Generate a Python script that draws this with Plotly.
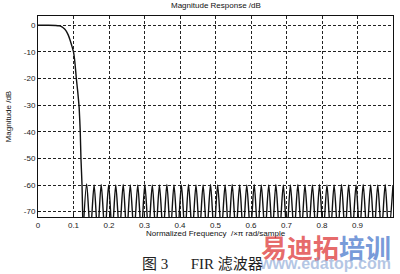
import plotly.graph_objects as go

# Transition band
trans_f = [0, 0.03, 0.05, 0.06, 0.065, 0.07, 0.075, 0.08, 0.085, 0.09, 0.095, 0.1, 0.104, 0.108, 0.112, 0.116, 0.119, 0.121, 0.124, 0.127]
trans_db = [0, 0, -0.05, -0.2, -0.4, -0.8, -1.4, -2.3, -3.6, -5.4, -7.6, -10, -14, -20, -25, -31, -40, -50, -60, -78]

# Stopband ripple: null positions and lobe peaks
null_f = [0.127, 0.1475, 0.168, 0.1885, 0.209, 0.2295, 0.250, 0.2705, 0.291, 0.3115,
          0.332, 0.3525, 0.373, 0.3935, 0.414, 0.4345, 0.455, 0.4755, 0.496, 0.5165,
          0.537, 0.5575, 0.578, 0.5985, 0.619, 0.6395, 0.660, 0.6805, 0.701, 0.7215,
          0.742, 0.7625, 0.783, 0.8035, 0.824, 0.8445, 0.865, 0.8855, 0.906, 0.9265,
          0.947, 0.9675, 0.988]
null_db = [-78] * len(null_f)
peak_f = [0.137, 0.158, 0.178, 0.199, 0.219, 0.240, 0.260, 0.281, 0.301, 0.322,
          0.342, 0.363, 0.383, 0.404, 0.424, 0.445, 0.465, 0.486, 0.506, 0.527,
          0.547, 0.568, 0.588, 0.609, 0.629, 0.650, 0.670, 0.691, 0.711, 0.732,
          0.752, 0.773, 0.793, 0.814, 0.834, 0.855, 0.875, 0.896, 0.916, 0.937,
          0.957, 0.978, 1.0]
peak_db = [-59.6, -60.0, -59.8, -60.0, -60.0, -59.8, -60.0, -60.0, -59.8, -60.0,
           -60.0, -59.8, -60.0, -60.0, -59.8, -60.0, -60.0, -59.8, -60.0, -60.0,
           -59.8, -60.0, -60.0, -59.8, -60.0, -60.0, -59.8, -60.0, -60.0, -59.8,
           -60.0, -60.0, -59.8, -60.0, -60.0, -59.8, -60.0, -60.0, -59.8, -60.0,
           -60.0, -59.8, -60.0]

x_ticks = [0, 0.1, 0.2, 0.3, 0.4, 0.5, 0.6, 0.7, 0.8, 0.9]
x_labels = ["0", "0.1", "0.2", "0.3", "0.4", "0.5", "0.6", "0.7", "0.8", "0.9"]
y_ticks = [-70, -60, -50, -40, -30, -20, -10, 0]
y_labels = ["-70", "-60", "-50", "-40", "-30", "-20", "-10", "0"]

stop_f, stop_db = [], []
for i in range(len(null_f)):
    stop_f.append(null_f[i]); stop_db.append(null_db[i])
    if i < len(peak_f):
        stop_f.append(peak_f[i]); stop_db.append(peak_db[i])

fig = go.Figure()
fig.add_trace(go.Scatter(x=trans_f, y=trans_db, mode="lines",
                         line=dict(color="#111", width=1.4, shape="spline", smoothing=0.4),
                         showlegend=False, hoverinfo="skip"))
fig.add_trace(go.Scatter(x=stop_f, y=stop_db, mode="lines",
                         line=dict(color="#111", width=1.4, shape="spline", smoothing=0.8),
                         showlegend=False, hoverinfo="skip"))

font = "Liberation Sans, Arial, sans-serif"
axis_common = dict(showgrid=True, gridcolor="#222", griddash="3px,2px", gridwidth=1,
                   showline=True, mirror=True, linecolor="#111", linewidth=1,
                   ticks="inside", ticklen=3, tickcolor="#111", zeroline=False,
                   tickfont=dict(family=font, size=8, color="#222"))

fig.update_layout(
    width=400, height=274,
    margin=dict(l=38, r=7, t=16, b=57),
    paper_bgcolor="white", plot_bgcolor="white",
    xaxis=dict(range=[0, 1], tickvals=x_ticks, ticktext=x_labels, **axis_common),
    yaxis=dict(range=[-72, 3.5], tickvals=y_ticks, ticktext=y_labels, **axis_common),
)

ann = [
    dict(text="Magnitude Response /dB", x=0.5, y=1.05, xref="paper", yref="paper",
         showarrow=False, font=dict(family=font, size=8, color="#111"), yanchor="middle"),
    dict(text="Magnitude /dB", x=-0.082, y=0.5, xref="paper", yref="paper",
         showarrow=False, textangle=-90, font=dict(family=font, size=8, color="#111"),
         xanchor="center", yanchor="middle"),
    dict(text="Normalized Frequency  /×π rad/sample", x=0.5, y=-0.082, xref="paper", yref="paper",
         showarrow=False, font=dict(family=font, size=8, color="#111"), yanchor="middle"),
    dict(text="<b><span style='color:rgba(220,40,40,0.7)'>易迪拓</span><span style='color:rgba(60,110,200,0.7)'>培训</span></b>",
         x=1.0, y=-0.148, xref="paper", yref="paper", showarrow=False,
         font=dict(family="Noto Sans CJK SC", size=26), xanchor="right", yanchor="middle"),
    dict(text="<b>www.edatop.com</b>", x=1.0, y=-0.232, xref="paper", yref="paper",
         showarrow=False, font=dict(family=font, size=16, color="rgba(130,160,210,0.6)"),
         xanchor="right", yanchor="middle"),
    dict(text="图 3 　 FIR 滤波器", x=0.462, y=-0.234, xref="paper", yref="paper",
         showarrow=False, font=dict(family="Liberation Serif, Noto Sans CJK SC, serif", size=15, color="#222"),
         xanchor="center", yanchor="middle"),
]
fig.update_layout(annotations=ann)

fig.write_html("out.html")
